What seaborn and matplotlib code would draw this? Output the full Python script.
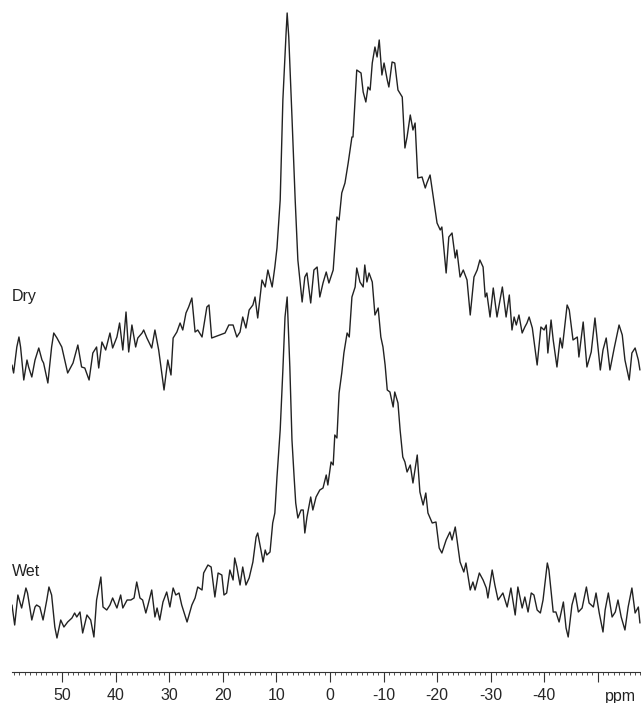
# NMR spectra (Dry / Wet) stacked
import pandas as pd
import seaborn as sns
import matplotlib.pyplot as plt
from matplotlib.ticker import MultipleLocator

# chemical shift (ppm) and intensity (a.u.) for the dry sample
dry_ppm = [59.4, 59.1, 58.5, 58.1, 57.8, 57.2, 56.6, 56.3, 55.7, 55.1, 54.4, 53.8, 53.5, 52.7,
           52.0, 51.6, 51.0, 50.5, 50.1, 49.0, 48.0, 47.1, 46.4, 45.8, 45.0, 44.3, 43.6, 43.2,
           42.6, 41.9, 41.1, 40.6, 39.8, 39.3, 38.7, 38.1, 37.6, 37.0, 36.3, 35.9, 35.1, 34.8,
           34.2, 33.3, 32.7, 32.0, 31.0, 30.3, 29.7, 29.3, 28.6, 28.0, 27.5, 26.9, 26.4, 25.8,
           25.2, 24.7, 23.9, 23.0, 22.6, 22.1, 20.6, 19.6, 18.9, 18.1, 17.4, 16.8, 16.3, 15.7,
           15.1, 14.4, 14.0, 13.5, 12.7, 12.1, 11.6, 10.8, 10.3, 9.9, 9.3, 8.8, 8.2, 8.0, 7.7,
           7.1, 6.5, 6.0, 5.2, 4.7, 4.3, 3.6, 3.0, 2.4, 1.9, 1.3, 0.7, 0.2, -0.6, -1.3, -1.7,
           -2.2, -2.8, -3.4, -4.1, -4.3, -5.0, -5.8, -6.2, -6.7, -7.1, -7.5, -7.9, -8.4, -8.8,
           -9.2, -9.7, -10.1, -10.7, -11.0, -11.6, -12.1, -12.7, -13.5, -14.0, -14.4, -15.0,
           -15.5, -15.9, -16.4, -17.2, -17.8, -18.1, -18.7, -19.3, -20.0, -20.6, -20.9, -21.7,
           -22.2, -22.8, -23.4, -23.7, -24.3, -24.9, -25.6, -26.2, -26.9, -27.5, -28.0, -28.6,
           -29.0, -29.3, -29.9, -30.5, -31.2, -32.2, -32.9, -33.5, -34.0, -34.4, -34.8, -35.3,
           -35.9, -36.4, -36.8, -37.2, -37.8, -38.1, -38.7, -39.4, -40.0, -40.4, -40.7, -41.3,
           -41.7, -42.4, -43.0, -43.4, -44.3, -44.7, -45.4, -46.2, -46.5, -47.3, -48.0, -48.8,
           -49.5, -50.5, -51.0, -51.6, -52.3, -53.1, -54.0, -54.6, -55.1, -55.9, -56.4, -57.0,
           -57.6, -57.9]
dry_int = [35, 27, 53, 63, 53, 20, 40, 33, 23, 40, 52, 40, 37, 17,
           53, 67, 62, 57, 53, 27, 37, 55, 33, 32, 20, 47, 53, 32,
           58, 50, 67, 52, 63, 77, 50, 88, 48, 75, 53, 62, 67, 70,
           62, 52, 70, 50, 10, 40, 25, 62, 68, 77, 70, 87, 93, 102,
           68, 70, 63, 93, 95, 62, 65, 67, 75, 75, 63, 68, 83, 72,
           90, 95, 103, 82, 120, 113, 130, 113, 133, 152, 200, 300, 367, 387, 363,
           283, 200, 140, 98, 123, 127, 97, 130, 133, 103, 117, 128, 117, 130, 183, 180,
           207, 217, 237, 263, 263, 330, 327, 308, 298, 313, 310, 337, 353, 343,
           360, 325, 337, 320, 313, 338, 337, 310, 303, 252, 263, 285,
           270, 277, 222, 223, 212, 217, 225, 203, 177, 170, 173, 127,
           163, 167, 142, 150, 123, 130, 120, 85, 123, 130, 140, 133,
           103, 107, 83, 112, 83, 113, 83, 105, 70, 83, 75, 85,
           67, 73, 77, 83, 72, 60, 35, 73, 70, 75, 47, 80,
           60, 33, 62, 52, 95, 90, 60, 63, 43, 78, 33, 48,
           82, 30, 50, 62, 30, 52, 75, 65, 40, 20, 47, 52,
           40, 30]

# chemical shift (ppm) and intensity (a.u.) for the wet sample
wet_ppm = [59.4, 58.9, 58.3, 57.6, 56.8, 56.5, 55.7, 55.1, 54.8, 54.2, 53.6, 52.9, 52.5, 52.0,
           51.4, 51.0, 50.3, 49.7, 49.0, 48.2, 47.7, 47.3, 46.7, 46.2, 45.4, 44.7, 44.1, 43.6,
           42.8, 42.4, 41.7, 41.1, 40.6, 39.8, 39.1, 38.7, 37.9, 37.2, 36.6, 36.1, 35.5, 35.0,
           34.4, 34.0, 33.3, 32.7, 32.3, 31.8, 31.2, 30.5, 29.9, 29.3, 28.8, 28.2, 27.7, 26.7,
           25.8, 25.2, 24.7, 23.9, 23.6, 22.8, 22.2, 21.5, 20.9, 20.2, 19.8, 19.3, 18.7, 18.1,
           17.8, 17.4, 16.8, 16.3, 15.7, 15.1, 14.4, 13.8, 13.5, 12.9, 12.5, 12.1, 11.8, 11.2,
           10.7, 10.3, 9.9, 9.3, 8.8, 8.4, 8.0, 7.9, 7.5, 7.1, 6.7, 6.4, 6.0, 5.4, 5.0, 4.7,
           4.3, 3.6, 3.2, 2.6, 1.9, 1.3, 0.7, 0.4, -0.2, -0.6, -0.9, -1.3, -1.7, -2.2, -2.6,
           -3.2, -3.6, -4.1, -4.7, -5.0, -5.6, -6.2, -6.5, -6.9, -7.3, -7.9, -8.4, -9.0, -9.5,
           -9.9, -10.3, -10.7, -11.2, -11.8, -12.1, -12.7, -13.1, -13.6, -14.0, -14.4, -15.0,
           -15.5, -16.3, -16.8, -17.4, -17.9, -18.3, -19.1, -19.8, -20.4, -20.9, -21.7, -22.4,
           -22.8, -23.4, -24.3, -25.0, -25.4, -26.2, -26.7, -27.1, -27.9, -28.6, -29.2, -29.5,
           -30.3, -30.8, -31.4, -32.3, -33.1, -33.8, -34.6, -35.1, -35.9, -36.4, -37.0, -37.6,
           -38.1, -38.7, -39.3, -39.8, -40.6, -40.9, -41.7, -42.2, -42.8, -43.6, -44.1, -44.5,
           -45.2, -45.8, -46.4, -47.1, -47.9, -48.4, -49.2, -49.7, -50.3, -51.0, -51.4, -52.0,
           -52.7, -53.3, -53.8, -54.4, -55.1, -55.7, -56.4, -57.0, -57.6, -57.9]
wet_int = [55, 35, 65, 52, 72, 67, 40, 53, 55, 53, 40, 60, 73, 65,
           33, 22, 40, 33, 38, 42, 47, 43, 48, 27, 45, 40, 23, 60,
           83, 53, 50, 55, 62, 52, 65, 52, 60, 60, 62, 78, 62, 60,
           47, 55, 70, 43, 52, 40, 58, 68, 53, 72, 65, 67, 55, 38,
           55, 62, 73, 70, 87, 95, 93, 63, 87, 85, 65, 67, 90, 80,
           102, 93, 75, 93, 75, 82, 98, 123, 127, 110, 98, 110, 105, 108,
           137, 147, 183, 230, 290, 343, 363, 347, 293, 220, 183, 157, 142, 150, 150, 127,
           143, 163, 150, 163, 170, 172, 185, 175, 198, 195, 225, 222, 267, 287, 307,
           327, 323, 363, 373, 392, 378, 373, 395, 378, 387, 378, 345, 352, 323,
           313, 295, 270, 268, 253, 268, 257, 230, 203, 198, 188, 195,
           177, 205, 168, 155, 167, 147, 137, 138, 112, 107, 120, 128,
           120, 133, 98, 88, 97, 70, 78, 70, 87, 80, 72, 62,
           90, 75, 60, 67, 53, 72, 45, 73, 52, 63, 48, 67,
           65, 50, 47, 60, 97, 90, 48, 48, 38, 58, 32, 23,
           55, 67, 48, 52, 73, 57, 53, 67, 47, 28, 50, 67,
           43, 48, 60, 43, 30, 53, 72, 47, 53, 37]

dry_offset = 260

dry = pd.DataFrame({'ppm': dry_ppm, 'intensity': [v + dry_offset for v in dry_int]})
wet = pd.DataFrame({'ppm': wet_ppm, 'intensity': wet_int})

sns.set_style('white')
plt.rcParams['font.family'] = ['Liberation Sans', 'DejaVu Sans']

fig = plt.figure(figsize=(6.41, 7.03), dpi=100)
ax = fig.add_axes([12 / 641, 31 / 703, 629 / 641, 672 / 703])

sns.lineplot(data=dry, x='ppm', y='intensity', color='#222222', linewidth=1.0,
             estimator=None, ax=ax)
sns.lineplot(data=wet, x='ppm', y='intensity', color='#222222', linewidth=1.0,
             estimator=None, ax=ax)

ax.set_xlim(59.4, -58.1)
ax.set_ylim(-12, 660)

ax.text(59.4, 363, 'Dry', fontsize=11.5, ha='left', va='center', color='#222222')
ax.text(59.4, 89, 'Wet', fontsize=11.5, ha='left', va='center', color='#222222')

for s in ['top', 'left', 'right']:
    ax.spines[s].set_visible(False)
ax.spines['bottom'].set_linewidth(0.8)
ax.spines['bottom'].set_color('#333333')

ticks = list(range(50, -60, -10))
ax.set_xticks(ticks)
ax.set_xticklabels([str(t) if t != -50 else '' for t in ticks])
ax.xaxis.set_minor_locator(MultipleLocator(1))
ax.tick_params(axis='x', which='major', direction='out', length=7, width=0.8,
               labelsize=11.5, pad=4.5, color='#333333', bottom=True)
ax.tick_params(axis='x', which='minor', direction='out', length=2.5, width=0.6,
               color='#333333', bottom=True)
ax.set_yticks([])
ax.set_xlabel('')
ax.set_ylabel('')
fig.text(620 / 641, 1 - 697 / 703, 'ppm', fontsize=11.5, ha='center', va='center',
         color='#222222')

fig.savefig('out.png', dpi=100)
